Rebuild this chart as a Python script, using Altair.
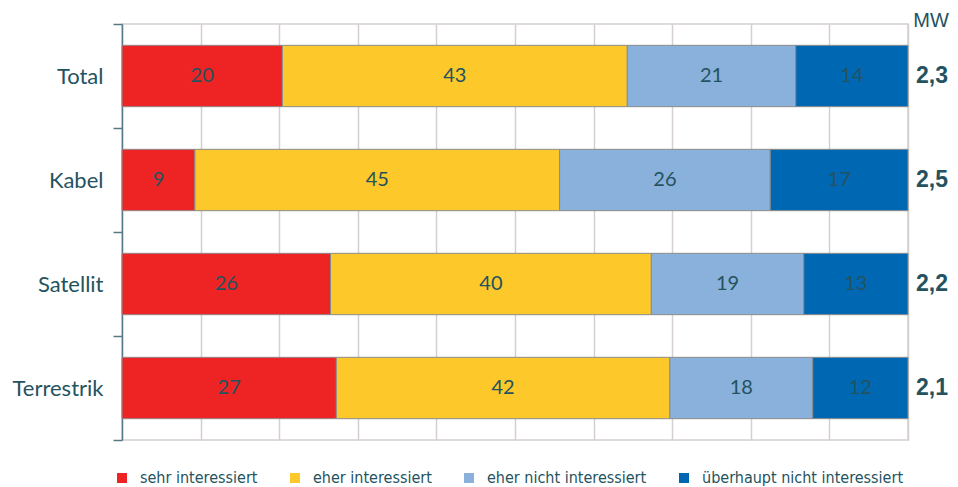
import altair as alt
import pandas as pd

categories = ["Total", "Kabel", "Satellit", "Terrestrik"]
levels = ["sehr interessiert", "eher interessiert", "eher nicht interessiert", "überhaupt nicht interessiert"]
sehr = [20, 9, 26, 27]
eher = [43, 45, 40, 42]
eher_nicht = [21, 26, 19, 18]
gar_nicht = [14, 17, 13, 12]
mw = ["2,3", "2,5", "2,2", "2,1"]
colors = ["#EE2324", "#FDC82A", "#8AB1DB", "#0068B3"]

rows = []
for i, c in enumerate(categories):
    for j, (lvl, arr) in enumerate(zip(levels, [sehr, eher, eher_nicht, gar_nicht])):
        rows.append({"cat": c, "level": lvl, "order": j, "value": arr[i]})
df = pd.DataFrame(rows)
df_mw = pd.DataFrame({"cat": categories, "mw": mw})
df_head = pd.DataFrame({"t": ["MW"]})

TEXT = "#24535f"
NARROW = "DejaVu Sans Condensed, Liberation Sans Narrow, Liberation Sans"

base = alt.Chart(df).transform_joinaggregate(
    total="sum(value)", groupby=["cat"]
).transform_calculate(
    pct="datum.value / datum.total"
).transform_stack(
    stack="pct", groupby=["cat"], as_=["s", "e"], sort=[alt.SortField("order")]
).transform_calculate(
    mid="(datum.s + datum.e) / 2"
)

yenc = alt.Y("cat:N", sort=categories, title=None,
             scale=alt.Scale(paddingInner=0, paddingOuter=0),
             axis=alt.Axis(labelFont="Lato", labelFontSize=22, labelColor=TEXT,
                           labelPadding=10, tickSize=9, tickBand="extent",
                           tickColor="#557a86", tickWidth=1.5,
                           domainColor="#557a86", domainWidth=1.5, grid=False))

xscale = alt.Scale(domain=[0, 1], nice=False)

bars = base.mark_bar(height={"band": 0.59}, stroke="#8c8c8c", strokeWidth=1).encode(
    x=alt.X("s:Q", scale=xscale, title=None,
            axis=alt.Axis(labels=False, ticks=False, domain=False, grid=True,
                          values=[0.1, 0.2, 0.3, 0.4, 0.5, 0.6, 0.7, 0.8, 0.9, 1.0],
                          gridColor="#d5cfcf", gridWidth=1.5)),
    x2="e:Q",
    y=yenc,
    color=alt.Color("level:N", scale=alt.Scale(domain=levels, range=colors),
                    sort=levels, title=None,
                    legend=alt.Legend(orient="none", legendX=-8, legendY=446,
                                      direction="horizontal", symbolType="square",
                                      symbolSize=100, symbolStrokeWidth=0,
                                      labelFont=NARROW, labelLimit=0,
                                      labelFontSize=16, labelColor=TEXT,
                                      labelOffset=10, columnPadding=29)),
)

texts = base.mark_text(font="Lato", fontSize=20, color=TEXT, baseline="middle").encode(
    x=alt.X("mid:Q", scale=xscale),
    y=alt.Y("cat:N", sort=categories),
    text="value:Q",
)

mw_text = alt.Chart(df_mw).mark_text(font="Liberation Sans", fontSize=23, fontWeight="bold",
                                     color=TEXT, baseline="middle", align="center").encode(
    x=alt.value(810),
    y=alt.Y("cat:N", sort=categories),
    text="mw:N",
)

mw_head = alt.Chart(df_head).mark_text(font="Liberation Sans", fontSize=20, color=TEXT,
                                       baseline="alphabetic", align="center").encode(
    x=alt.value(809),
    y=alt.value(3),
    text="t:N",
)

chart = alt.layer(bars, texts, mw_text, mw_head).properties(
    width=786, height=416,
    padding={"left": 114, "top": 16, "right": 42, "bottom": 47},
    autosize=alt.AutoSizeParams(type="none"),
).configure_view(stroke="#d5cfcf", strokeWidth=1.5)

chart.save("out.html", embed_options={"renderer": "svg", "actions": False})
